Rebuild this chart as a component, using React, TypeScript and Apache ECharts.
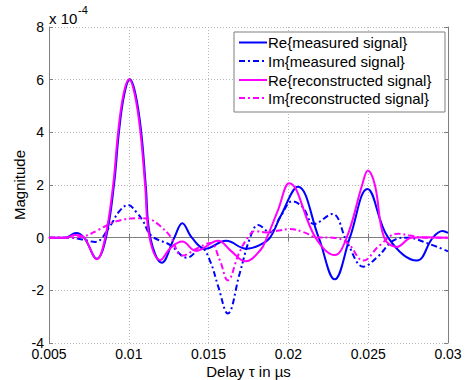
import React, { useEffect, useRef } from "react";
import * as echarts from "echarts";

// Delay axis (as labelled) and magnitude in units of 10^-4
const delayTicks = [0.005, 0.01, 0.015, 0.02, 0.025, 0.03];
const magnitudeTicks = [-4, -2, 0, 2, 4, 6, 8];
const magnitudeExponent = -4;

const seriesNames = [
  "Re{measured signal}",
  "Im{measured signal}",
  "Re{reconstructed signal}",
  "Im{reconstructed signal}",
];

// [delay, magnitude ×1e-4]
const reMeasured: [number, number][] = [
  [0.005, 0], [0.006, 0], [0.0067, 0.18], [0.0072, 0], [0.008, -0.8], [0.00857, 0],
  [0.00907, 2.0], [0.00938, 4.0], [0.00972, 5.45], [0.01007, 6.02], [0.01042, 5.45],
  [0.01078, 4.0], [0.01106, 2.0], [0.01135, 0], [0.01207, -0.95], [0.01285, 0],
  [0.01335, 0.55], [0.01395, 0], [0.0148, -0.42], [0.0161, -0.12], [0.01735, -0.42],
  [0.0182, -0.28], [0.01885, 0], [0.0195, 0.8], [0.0206, 1.93], [0.0219, 0],
  [0.0229, -1.58], [0.02385, 0], [0.02495, 1.85], [0.02625, 0], [0.02805, -0.87],
  [0.02905, 0], [0.02965, 0.25], [0.03, 0.18],
];

const imMeasured: [number, number][] = [
  [0.005, 0], [0.0063, 0], [0.007, -0.06], [0.0079, -0.16], [0.0088, 0.42], [0.0094, 1.0],
  [0.00995, 1.24], [0.0105, 0.95], [0.0109, 0.62], [0.0114, 0.08], [0.0126, -0.28],
  [0.01365, -0.76], [0.01455, -0.4], [0.0151, -0.9], [0.0156, -1.85], [0.0162, -2.88],
  [0.01695, -1.35], [0.0176, 0], [0.0181, 0.48], [0.01885, 0.2], [0.0195, 0.8],
  [0.02025, 1.38], [0.0209, 1.15], [0.0216, 0.52], [0.02275, 0.9], [0.0237, -0.2],
  [0.0247, -1.1], [0.0256, -0.72], [0.0266, -0.1], [0.02745, 0], [0.0287, -0.21],
  [0.03, -0.52],
];

const reReconstructed: [number, number][] = [
  [0.005, 0], [0.006, 0], [0.00665, 0.1], [0.0072, 0], [0.008, -0.82], [0.00852, 0],
  [0.00902, 2.0], [0.00933, 4.0], [0.00967, 5.45], [0.01002, 6.02], [0.01037, 5.45],
  [0.01073, 4.0], [0.01102, 2.0], [0.0113, 0], [0.01197, -0.85], [0.0126, -0.4],
  [0.01335, -0.15], [0.0142, -0.5], [0.0156, -0.12], [0.0164, -0.5], [0.0173, -0.9],
  [0.01825, -0.47], [0.01865, 0], [0.01935, 1.05], [0.02005, 2.07], [0.0217, 0],
  [0.0229, -0.66], [0.02365, 0], [0.02462, 2.0], [0.02498, 2.55], [0.02542, 2.0],
  [0.026, 0], [0.0268, -0.35], [0.0277, 0], [0.0285, 0.02], [0.03, 0],
];

const imReconstructed: [number, number][] = [
  [0.005, 0], [0.0063, 0], [0.0073, 0.07], [0.0081, 0.3], [0.0092, 0.62], [0.0106, 0.74],
  [0.0113, 0.7], [0.01195, 0.45], [0.0126, 0.05], [0.01335, -0.68], [0.0143, -0.4],
  [0.0151, -0.2], [0.0157, -0.85], [0.0162, -1.62], [0.0169, -0.6], [0.01745, 0],
  [0.0179, 0.25], [0.0186, 0.2], [0.0193, 0.26], [0.0201, 0.33], [0.021, 0.2],
  [0.0217, 0.02], [0.0228, 0], [0.0237, -0.2], [0.0247, -0.87], [0.0257, -0.3],
  [0.02685, 0.15], [0.0276, 0.08], [0.0285, 0], [0.03, 0],
];

const BLUE = "#0000ff";
const MAGENTA = "#ff00ff";
const AXIS_GRAY = "#7f7f7f";
const FONT = "'Liberation Sans', Arial, Helvetica, sans-serif";
const DASH_DOT = [6, 3, 2, 3];

const seriesData = [reMeasured, imMeasured, reReconstructed, imReconstructed];
const seriesColors = [BLUE, BLUE, MAGENTA, MAGENTA];
const seriesDashed = [false, true, false, true];

function nearest(ticks: number[], v: number): number {
  let best = ticks[0];
  for (const t of ticks) if (Math.abs(t - v) < Math.abs(best - v)) best = t;
  return best;
}

const delayLabel = (v: number) => String(nearest(delayTicks, v));
const magnitudeLabel = (v: number) => String(nearest(magnitudeTicks, v));

export default function App() {
  const ref = useRef<HTMLDivElement>(null);

  useEffect(() => {
    if (!ref.current) return;
    const chart = echarts.init(ref.current, null, { renderer: "svg" });

    const gridLeft = 49;
    const gridTop = 27;
    const gridRight = 448;
    const gridBottom = 343;

    const axisCommon = {
      type: "value" as const,
      axisLine: { show: true, lineStyle: { color: AXIS_GRAY, width: 1 } },
      axisTick: { show: true, inside: true, length: 4, lineStyle: { color: AXIS_GRAY } },
      minorTick: { show: false },
    };

    const xBase = {
      ...axisCommon,
      min: delayTicks[0],
      max: delayTicks[delayTicks.length - 1],
      interval: delayTicks[1] - delayTicks[0],
    };
    const yBase = {
      ...axisCommon,
      min: magnitudeTicks[0],
      max: magnitudeTicks[magnitudeTicks.length - 1],
      interval: magnitudeTicks[1] - magnitudeTicks[0],
    };

    const gridLineStyle = { color: "#b8b8b8", width: 1, type: [1, 2] as number[] };

    // Legend box drawn as graphics
    const legendX = 234;
    const legendY = 32;
    const legendW = 211;
    const legendH = 80;
    const rowY = [42.5, 61, 80, 98];
    const legendElems: any[] = [
      {
        type: "rect",
        shape: { x: legendX, y: legendY, width: legendW, height: legendH },
        style: { fill: "#ffffff", stroke: AXIS_GRAY, lineWidth: 1 },
        z: 100,
      },
    ];
    seriesNames.forEach((name, i) => {
      legendElems.push({
        type: "line",
        shape: { x1: legendX + 5, y1: rowY[i], x2: legendX + 33, y2: rowY[i] },
        style: {
          stroke: seriesColors[i],
          lineWidth: 2,
          lineDash: seriesDashed[i] ? DASH_DOT : null,
        },
        z: 101,
      });
      legendElems.push({
        type: "text",
        x: legendX + 34,
        y: rowY[i],
        style: {
          text: name,
          font: `15px ${FONT}`,
          fill: "#000",
          verticalAlign: "middle",
          align: "left",
        },
        z: 101,
      });
    });

    const option: any = {
      animation: false,
      backgroundColor: "#ffffff",
      grid: {
        left: gridLeft,
        top: gridTop,
        width: gridRight - gridLeft,
        height: gridBottom - gridTop,
        containLabel: false,
      },
      xAxis: [
        {
          ...xBase,
          position: "bottom",
          axisLabel: {
            show: true,
            margin: 4,
            color: "#000",
            fontFamily: FONT,
            fontSize: 14,
            formatter: delayLabel,
            showMinLabel: true,
            showMaxLabel: true,
          },
          splitLine: { show: true, lineStyle: gridLineStyle },
        },
        {
          ...xBase,
          position: "top",
          axisLabel: { show: false },
          splitLine: { show: false },
        },
      ],
      yAxis: [
        {
          ...yBase,
          position: "left",
          axisLabel: {
            show: true,
            margin: 5,
            color: "#000",
            fontFamily: FONT,
            fontSize: 14,
            formatter: magnitudeLabel,
            showMinLabel: true,
            showMaxLabel: true,
          },
          splitLine: { show: true, lineStyle: gridLineStyle },
        },
        {
          ...yBase,
          position: "right",
          axisLabel: { show: false },
          splitLine: { show: false },
        },
      ],
      series: seriesData.map((data, i) => ({
        name: seriesNames[i],
        type: "line",
        xAxisIndex: 0,
        yAxisIndex: 0,
        data,
        smooth: 0.4,
        showSymbol: false,
        symbol: "none",
        clip: true,
        lineStyle: {
          color: seriesColors[i],
          width: 2,
          type: seriesDashed[i] ? DASH_DOT : "solid",
        },
        z: 10 + i,
      })),
      graphic: [
        {
          type: "text",
          x: 49,
          y: 18,
          style: {
            text: "x 10",
            font: `15px ${FONT}`,
            fill: "#000",
            verticalAlign: "middle",
            align: "left",
          },
        },
        {
          type: "text",
          x: 78,
          y: 10,
          style: {
            text: String(magnitudeExponent),
            font: `11px ${FONT}`,
            fill: "#000",
            verticalAlign: "middle",
            align: "left",
          },
        },
        {
          type: "text",
          x: (gridLeft + gridRight) / 2,
          y: 371,
          style: {
            text: "Delay τ in µs",
            font: `15px ${FONT}`,
            fill: "#000",
            verticalAlign: "middle",
            align: "center",
          },
        },
        {
          type: "text",
          x: 19,
          y: (gridTop + gridBottom) / 2,
          rotation: Math.PI / 2,
          style: {
            text: "Magnitude",
            font: `15px ${FONT}`,
            fill: "#000",
            verticalAlign: "middle",
            align: "center",
          },
        },
        ...legendElems,
      ],
    };

    chart.setOption(option);
    return () => chart.dispose();
  }, []);

  return (
    <div
      ref={ref}
      style={{
        position: "fixed",
        left: 0,
        top: 0,
        width: 466,
        height: 380,
        background: "#ffffff",
      }}
    />
  );
}
